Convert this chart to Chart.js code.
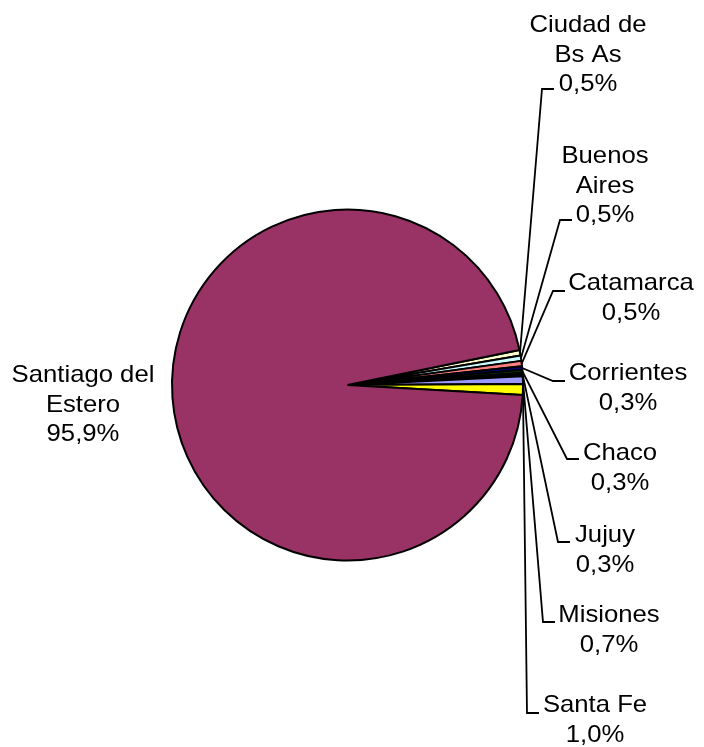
<!DOCTYPE html>
<html>
<head>
<meta charset="utf-8">
<script src="https://cdn.jsdelivr.net/npm/chart.js@4"></script>
<style>
  body { margin: 0; background: #fff; }
  canvas { display: block; }
</style>
</head>
<body>
<canvas id="pie" width="704" height="747"></canvas>
<script>
// provincias y porcentaje (%)
const categories = ['Ciudad de Bs As', 'Buenos Aires', 'Catamarca', 'Corrientes', 'Chaco', 'Jujuy', 'Misiones', 'Santa Fe', 'Santiago del Estero'];
const shares = [0.5, 0.5, 0.5, 0.3, 0.3, 0.3, 0.7, 1.0, 95.9];
const sliceColors = ['#FFFFCC', '#CCFFFF', '#FF8080', '#000080', '#003300', '#000000', '#9999FF', '#FFFF00', '#993366'];

// how each label is broken into lines
const labelLines = [['Ciudad de', 'Bs As'], ['Buenos', 'Aires'], ['Catamarca'], ['Corrientes'], ['Chaco'], ['Jujuy'], ['Misiones'], ['Santa Fe'], ['Santiago del', 'Estero']];
// label placement: text centre x, first baseline y, leader elbow (null = no leader)
const labelSpots = [
    { x: 588, y: 32, elbow: [542, 89] },
    { x: 605, y: 163, elbow: [560, 220] },
    { x: 631, y: 290, elbow: [553, 291] },
    { x: 628, y: 380, elbow: [553, 381] },
    { x: 620, y: 460, elbow: [567, 459] },
    { x: 605, y: 542, elbow: [558, 542] },
    { x: 609, y: 622, elbow: [543, 622] },
    { x: 595, y: 712, elbow: [527, 713] },
    { x: 83, y: 382, elbow: null }
];

const lineGap = 29.5
const stub = 12

const pctText = v => v.toFixed(1).replace('.', ',') + '%'

const leaderLabels = {
    id: 'leaderLabels',
    afterDraw(chart) {
        const ctx = chart.ctx
        const arcs = chart.getDatasetMeta(0).data
        ctx.save()
        ctx.strokeStyle = '#000'
        ctx.lineWidth = 1.8
        arcs.forEach((arc, i) => {
            const spot = labelSpots[i]
            if (!spot.elbow) return
            const mid = (arc.startAngle + arc.endAngle) / 2
            const sx = arc.x + Math.cos(mid) * arc.outerRadius
            const sy = arc.y + Math.sin(mid) * arc.outerRadius
            ctx.beginPath()
            ctx.moveTo(sx, sy)
            ctx.lineTo(spot.elbow[0], spot.elbow[1])
            ctx.lineTo(spot.elbow[0] + stub, spot.elbow[1])
            ctx.stroke()
        })
        ctx.fillStyle = '#000'
        ctx.font = '24px "Liberation Sans", Arial, sans-serif'
        ctx.textAlign = 'center'
        ctx.textBaseline = 'alphabetic'
        labelSpots.forEach((spot, i) => {
            const lines = labelLines[i].concat([pctText(shares[i])])
            lines.forEach((t, k) => {
                ctx.save()
                ctx.translate(spot.x, spot.y + k * lineGap)
                ctx.scale(1.07, 1)
                ctx.fillText(t, 0, 0)
                ctx.restore()
            })
        })
        ctx.restore()
    }
}

new Chart(document.getElementById('pie'), {
    type: 'pie',
    data: {
        labels: categories,
        datasets: [{
            data: shares,
            backgroundColor: sliceColors,
            borderColor: '#000',
            borderWidth: 2
        }]
    },
    options: {
        responsive: false,
        animation: false,
        rotation: 78.5,
        radius: 175.5,
        layout: { padding: { left: 172, right: 181, top: 209, bottom: 186 } },
        plugins: {
            legend: { display: false },
            tooltip: { enabled: false }
        }
    },
    plugins: [leaderLabels]
});
</script>
</body>
</html>
